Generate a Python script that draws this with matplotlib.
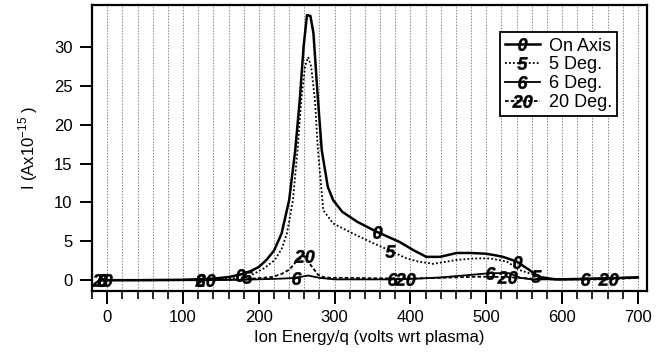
import numpy as np
import matplotlib
matplotlib.use('Agg')
import matplotlib.pyplot as plt
from matplotlib.textpath import TextPath
from matplotlib.font_manager import FontProperties
from matplotlib.path import Path
from matplotlib.lines import Line2D
from matplotlib.ticker import MultipleLocator

plt.rcParams['font.family'] = ['Liberation Sans', 'DejaVu Sans']
plt.rcParams['mathtext.fontset'] = 'custom'
plt.rcParams['mathtext.rm'] = 'Liberation Sans'

# ---- data ----
axis_x = [-7, 40, 100, 140, 160, 175, 190, 200, 210, 220, 230, 240, 248, 254, 259, 263.5,
          268, 272, 278, 283, 291, 298, 310, 330, 356, 386, 405, 421, 439, 461, 480, 500,
          512, 522, 540, 557, 570, 592, 620, 660, 700]
axis_y = [0, 0, 0.05, 0.2, 0.4, 0.7, 1.2, 1.7, 2.6, 3.8, 6.0, 10.3, 16.7, 23.2, 30.0, 34.1,
          34.0, 31.8, 23.2, 16.7, 12.0, 10.3, 8.8, 7.5, 6.2, 4.9, 3.8, 3.0, 3.0, 3.5, 3.5, 3.4,
          3.2, 3.0, 2.4, 1.3, 0.4, 0.1, 0.15, 0.25, 0.35]
axis_marks = [0, 5, 24, 34]

deg5_x = [-7, 40, 100, 150, 185, 195, 208, 221, 230, 237, 245, 251, 256, 261, 265, 269,
          274, 278, 285, 298, 324, 350, 373, 395, 410, 430, 461, 485, 505, 527, 544, 566,
          584, 620, 660, 700]
deg5_y = [0, 0, 0, 0.1, 0.4, 0.9, 1.6, 2.6, 4.0, 6.0, 10.3, 16.7, 23.2, 27.5, 28.7, 27.5,
          23.2, 16.7, 9.0, 7.3, 6.0, 4.8, 3.8, 2.8, 2.4, 2.1, 2.6, 2.8, 2.8, 2.4, 1.3, 0.6,
          0.1, 0.15, 0.25, 0.3]
deg5_marks = [0, 4, 22, 31]

deg6_x = [-7, 60, 122, 180, 230, 249, 265, 280, 300, 340, 375, 410, 439, 470, 505, 530,
          545, 560, 590, 630, 670, 700]
deg6_y = [0, 0, 0, 0.05, 0.2, 0.3, 0.6, 0.3, 0.1, 0.1, 0.1, 0.2, 0.35, 0.6, 0.9, 0.9,
          0.3, 0.1, 0.1, 0.1, 0.25, 0.4]
deg6_marks = [0, 2, 5, 10, 14, 19]

deg20_x = [-7, 60, 129, 180, 217, 230, 241, 250, 260, 268, 278, 285, 295, 310, 350, 393,
           440, 490, 527, 560, 600, 660, 700]
deg20_y = [0, 0, 0, 0.1, 0.4, 0.8, 1.4, 2.5, 3.1, 2.0, 0.7, 0.4, 0.3, 0.3, 0.25, 0.2,
           0.3, 0.45, 0.4, 0.2, 0.1, 0.1, 0.3]
deg20_marks = [0, 2, 8, 15, 18, 21]

labels = ['On Axis', '5 Deg.', '6 Deg.', '20 Deg.']
tags = ['0', '5', '6', '20']


def text_marker(s, size=13):
    # bold italic number used as a marker, centred on the data point
    tp = TextPath((0, 0), s, size=1,
                  prop=FontProperties(family='Liberation Sans', weight='bold', style='italic'))
    v = tp.vertices.copy()
    v -= (v.min(axis=0) + v.max(axis=0)) / 2
    ms = size * 2 * np.abs(v).max()
    return Path(v, tp.codes), ms


fig = plt.figure(figsize=(6.67, 3.58), dpi=100)
ax = fig.add_axes([0.138, 0.187, 0.832, 0.799])

series = [
    (axis_x, axis_y, axis_marks, '-', 1.8),
    (deg5_x, deg5_y, deg5_marks, (0, (1, 1.2)), 1.3),
    (deg6_x, deg6_y, deg6_marks, '-', 1.3),
    (deg20_x, deg20_y, deg20_marks, (0, (2, 1.2)), 1.3),
]

handles = []
for (xs, ys, marks, ls, lw), lab, tag in zip(series, labels, tags):
    mpath, ms = text_marker(tag)
    ax.plot(xs, ys, color='black', linestyle=ls, linewidth=lw,
            marker=mpath, markersize=ms, markevery=marks,
            markerfacecolor='black', markeredgecolor='black', markeredgewidth=0.3)
    handles.append(Line2D([], [], color='black', linestyle=ls, linewidth=lw,
                          marker=mpath, markersize=ms,
                          markerfacecolor='black', markeredgecolor='black',
                          markeredgewidth=0.3))

ax.set_xlim(-20, 712)
ax.set_ylim(-1.4, 35.4)
ax.xaxis.set_major_locator(MultipleLocator(100))
ax.xaxis.set_minor_locator(MultipleLocator(20))
ax.set_yticks([0, 5, 10, 15, 20, 25, 30])

ax.grid(True, which='both', axis='x', color='#888888', linestyle=(0, (1.5, 1.5)), linewidth=0.7)
ax.set_axisbelow(True)

for sp in ax.spines.values():
    sp.set_linewidth(1.6)
ax.tick_params(axis='both', which='major', direction='out', length=9, width=1.4,
               labelsize=12, pad=5)
ax.tick_params(axis='x', which='minor', direction='out', length=5.5, width=1.2)

ax.set_xlabel('Ion Energy/q (volts wrt plasma)', fontsize=12, labelpad=3)
ax.set_ylabel('I (Ax10$^{-15}$ )', fontsize=12, labelpad=10)

leg = ax.legend(handles, labels, loc='upper left', bbox_to_anchor=(0.735, 0.905),
                fontsize=13, numpoints=1, handlelength=1.9, handletextpad=0.5,
                labelspacing=0.1, borderpad=0.3, borderaxespad=0, fancybox=False,
                framealpha=1, edgecolor='black')
leg.get_frame().set_linewidth(1.3)

fig.savefig('out.png', dpi=100)
